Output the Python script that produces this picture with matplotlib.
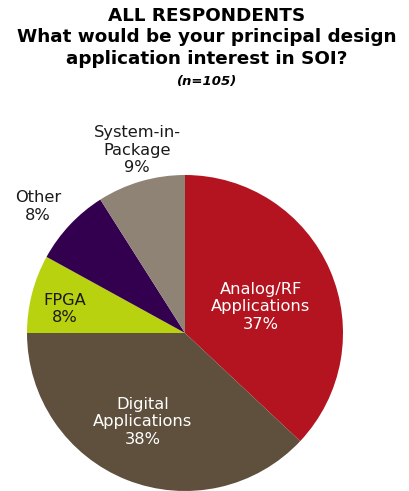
import matplotlib.pyplot as plt

plt.rcParams["font.family"] = ["DejaVu Sans"]

# ------------------- Datos -------------------
categorias = ["Analog/RF\nApplications", "Digital\nApplications", "FPGA", "Other", "System-in-\nPackage"]
porcentajes = [37, 38, 8, 8, 9]
colores = ["#B3141F", "#5E503C", "#B8D20F", "#33004F", "#8E8374"]
color_texto = ["white", "white", "#1a1a1a", "#1a1a1a", "#1a1a1a"]
# posición de cada etiqueta (unidades del radio)
pos_etiqueta = [(0.48, 0.165), (-0.266, -0.563), (-0.76, 0.152), (-0.93, 0.80), (-0.304, 1.158)]

W, H = 409, 491
fig = plt.figure(figsize=(W / 100, H / 100), dpi=100)

# Centro del pastel (185, 333) px, radio 158 px
cx, cy, r = 185, 333, 158
ax = fig.add_axes([(cx - r) / W, (H - cy - r) / H, 2 * r / W, 2 * r / H])
wedges, _ = ax.pie(porcentajes, colors=colores, startangle=90, counterclock=False,
                   radius=1, wedgeprops=dict(linewidth=0))
ax.set_xlim(-1, 1)
ax.set_ylim(-1, 1)
ax.set_aspect("equal")
ax.axis("off")

for cat, pct, (x, y), c in zip(categorias, porcentajes, pos_etiqueta, color_texto):
    ax.text(x, y, f"{cat}\n{pct}%", ha="center", va="center",
            fontsize=11.7, color=c, linespacing=1.2, clip_on=False)

# ------------------- Título -------------------
fig.text(207 / W, 1 - 37.5 / H, "ALL RESPONDENTS\nWhat would be your principal design\napplication interest in SOI?",
         ha="center", va="center", fontsize=13.2, fontweight="bold", linespacing=1.23)
fig.text(207 / W, 1 - 82 / H, "(n=105)", ha="center", va="center", fontsize=9.5,
         fontweight="bold", style="italic")

fig.savefig("out.png", dpi=100)
